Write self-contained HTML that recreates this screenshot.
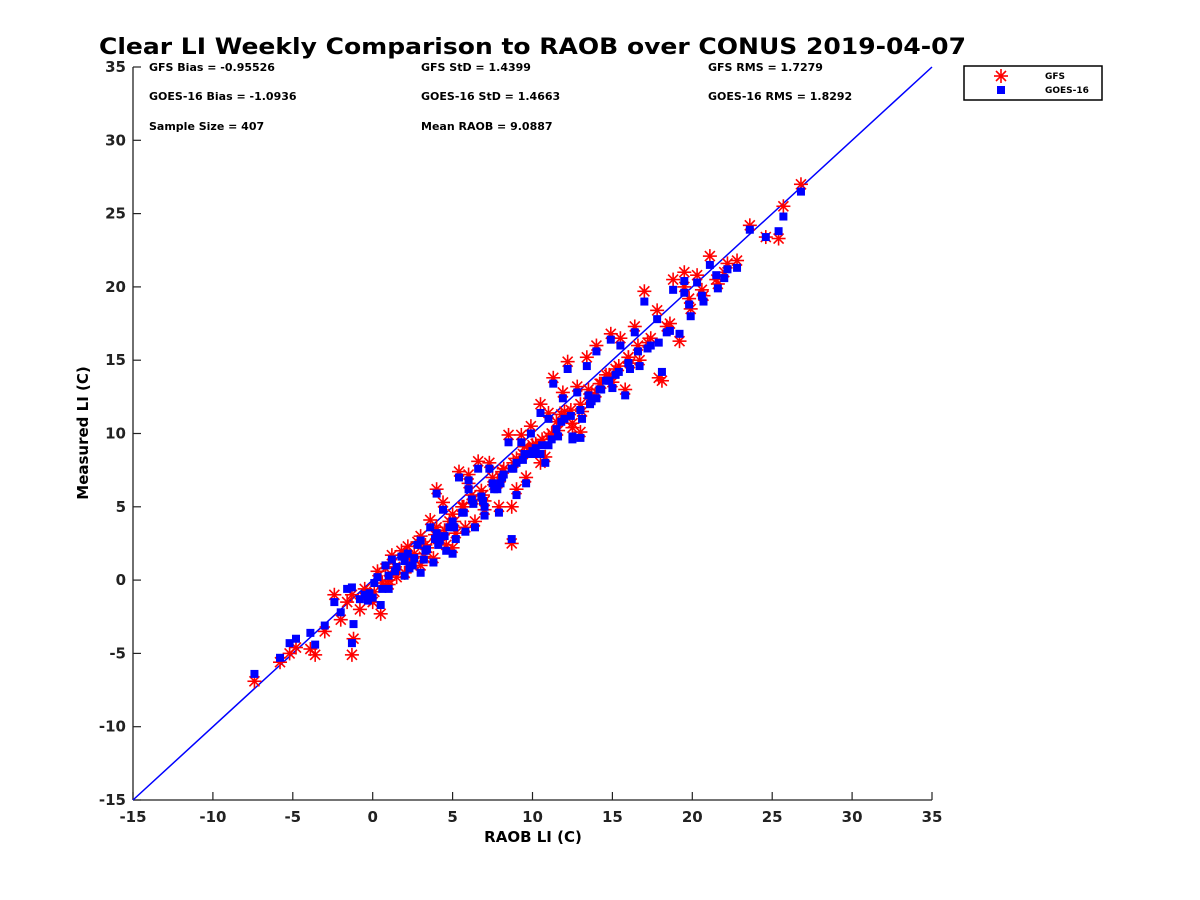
<!DOCTYPE html>
<html><head><meta charset="utf-8"><style>
body{margin:0;background:#fff;}
svg{display:block;font-family:"DejaVu Sans","Liberation Sans",sans-serif;}
</style></head><body>
<svg id="chart" width="1200" height="900">
<text x="99" y="54" textLength="867" lengthAdjust="spacingAndGlyphs" font-size="22" font-weight="bold">Clear LI Weekly Comparison to RAOB over CONUS 2019-04-07</text>
<g font-size="11" font-weight="bold">
<text x="149" y="71">GFS Bias = -0.95526</text>
<text x="421" y="71">GFS StD = 1.4399</text>
<text x="708" y="71">GFS RMS = 1.7279</text>
<text x="149" y="100">GOES-16 Bias = -1.0936</text>
<text x="421" y="100">GOES-16 StD = 1.4663</text>
<text x="708" y="100">GOES-16 RMS = 1.8292</text>
<text x="149" y="130">Sample Size = 407</text>
<text x="421" y="130">Mean RAOB = 9.0887</text>
</g>
<g id="axes"></g>
<g id="marks"></g>
<text x="533" y="842" text-anchor="middle" font-size="15" font-weight="bold">RAOB LI (C)</text>
<text transform="translate(88,433) rotate(-90)" text-anchor="middle" font-size="15" font-weight="bold">Measured LI (C)</text>
<g>
<rect x="964" y="66" width="138" height="34" fill="#fff" stroke="#000" stroke-width="1.5"/>
<g stroke="red" stroke-width="1.6">
<line x1="1001" y1="69" x2="1001" y2="83"/><line x1="994" y1="76" x2="1008" y2="76"/><line x1="996" y1="71" x2="1006" y2="81"/><line x1="996" y1="81" x2="1006" y2="71"/></g>
<rect x="997" y="86" width="8" height="8" fill="blue"/>
<text x="1045" y="79" font-size="9" font-weight="bold">GFS</text>
<text x="1045" y="93" font-size="9" font-weight="bold">GOES-16</text>
</g>
</svg>
<script>
const raob=[-7.4,-5.8,-5.2,-4.8,-3.9,-3.6,-3.0,-2.4,-2.0,-1.6,-1.3,-1.2,-0.8,-0.5,-0.2,0.1,0.3,0.5,0.8,1.0,1.2,1.5,1.8,2.0,2.2,2.5,2.8,3.0,3.2,3.4,3.6,3.8,4.0,4.2,4.4,4.6,4.8,5.0,5.2,5.4,5.6,5.8,6.0,6.2,6.4,6.6,6.8,7.0,7.3,7.6,7.9,8.2,8.5,8.7,9.0,9.3,9.6,9.9,10.2,10.5,10.8,11.0,11.3,11.6,11.9,12.2,12.5,12.8,13.1,13.4,13.7,14.0,14.3,14.6,14.9,15.2,15.5,15.8,16.1,16.4,16.7,17.0,17.4,17.8,18.1,18.4,18.8,19.2,19.5,19.9,20.3,20.7,21.1,21.6,22.2,22.8,23.6,24.6,25.4,25.7,26.8,
3.0,4.0,5.0,6.0,7.0,8.0,9.0,10.0,11.0,12.0,13.0,14.0,15.0,16.0,2.0,1.0,0.0,-1.3,8.7,17.9,19.5,21.5,9.5,10.5,11.5,12.5,13.5,
1.4,2.6,3.3,3.9,4.5,5.1,5.7,6.3,6.9,7.5,8.1,8.8,9.4,10.0,10.6,11.2,11.8,12.4,13.0,13.6,14.2,14.8,15.4,16.0,16.6,17.2,18.6,19.8,20.6,22.0,0.6,-0.3,2.3,4.1,7.8];
const gfs=[-6.9,-5.6,-5.0,-4.6,-4.7,-5.1,-3.5,-1.0,-2.7,-1.5,-5.1,-4.0,-2.0,-0.6,-1.3,-0.8,0.6,-2.3,0.8,-0.3,1.7,0.2,2.0,0.5,2.3,1.2,2.6,3.0,1.6,2.2,4.1,1.5,6.2,3.0,5.3,2.4,4.0,4.5,3.2,7.4,5.0,3.6,7.2,5.8,4.0,8.1,6.1,5.4,8.0,6.5,5.0,7.6,9.9,5.0,8.3,9.9,7.0,10.5,9.3,12.0,8.4,11.4,13.8,10.2,12.8,14.9,10.4,13.2,11.5,15.2,12.6,16.0,13.4,14.0,16.8,14.4,16.5,13.0,14.8,17.3,15.0,19.7,16.5,18.4,13.6,17.3,20.5,16.3,21.0,18.5,20.8,19.4,22.1,20.2,21.6,21.8,24.2,23.4,23.3,25.5,27.0,
1.0,3.6,2.2,6.6,4.8,7.0,6.2,9.2,9.8,11.5,10.1,12.8,13.5,15.2,0.5,0.0,-1.5,-1.0,2.5,13.8,20.0,20.5,9.1,8.0,10.8,10.7,13.0,
0.9,1.8,2.4,3.1,3.4,4.0,5.0,5.5,5.8,7.0,7.4,8.0,8.6,9.0,9.6,10.0,11.3,11.6,12.0,12.4,13.4,14.0,14.6,15.2,16.0,16.2,17.5,19.2,19.8,21.0,-0.2,-1.0,1.1,2.8,6.6];
const goes=[-6.4,-5.3,-4.3,-4.0,-3.6,-4.4,-3.1,-1.5,-2.2,-0.6,-4.3,-3.0,-1.3,-1.0,-0.9,-0.2,0.2,-1.7,1.0,-0.6,1.4,0.9,1.6,0.3,1.8,1.0,2.4,2.7,1.4,2.1,3.6,1.2,5.9,2.7,4.8,2.0,3.6,4.0,2.8,7.0,4.6,3.3,6.8,5.5,3.6,7.6,5.7,5.0,7.6,6.2,4.6,7.2,9.4,2.8,8.0,9.4,6.6,10.0,9.0,11.4,8.0,11.0,13.4,9.8,12.4,14.4,9.8,12.8,11.0,14.6,12.2,15.6,13.0,13.6,16.4,14.0,16.0,12.6,14.4,16.9,14.6,19.0,16.0,17.8,14.2,16.9,19.8,16.8,20.4,18.0,20.3,19.0,21.5,19.9,21.2,21.3,23.9,23.4,23.8,24.8,26.5,
0.5,3.2,1.8,6.2,4.4,6.6,5.8,8.8,9.2,11.0,9.7,12.4,13.1,14.8,1.3,0.3,-1.2,-0.5,7.6,16.2,19.6,20.8,8.6,8.6,10.3,9.6,12.6,
0.6,1.5,2.0,2.8,3.0,3.6,4.6,5.2,5.4,6.6,7.0,7.6,8.2,8.6,9.2,9.6,10.8,11.2,11.6,12.0,13.0,13.6,14.2,14.8,15.6,15.8,17.0,18.8,19.4,20.6,-0.6,-1.4,0.8,2.4,6.2];
const ticks=[-15,-10,-5,0,5,10,15,20,25,30,35];
const X0=133,X1=932,Y0=800,Y1=67,MIN=-15,MAX=35;
const sx=v=>X0+(v-MIN)/(MAX-MIN)*(X1-X0);
const sy=v=>Y0-(v-MIN)/(MAX-MIN)*(Y0-Y1);
const NS='http://www.w3.org/2000/svg';
function mk(tag,at,parent){const e=document.createElementNS(NS,tag);for(const k in at)e.setAttribute(k,at[k]);parent.appendChild(e);return e;}
const axes=document.getElementById('axes'),marks=document.getElementById('marks');
const xa=mk('line',{x1:X0,y1:Y0,x2:X1,y2:Y0,stroke:'#222','stroke-width':1.3},axes);


const ya=mk('line',{x1:X0,y1:Y0,x2:X0,y2:Y1,stroke:'#222','stroke-width':1.3},axes);


ticks.forEach(t=>{
  mk('line',{x1:sx(t),y1:Y0,x2:sx(t),y2:Y0-8,stroke:'#222','stroke-width':1.2},axes);
  mk('line',{x1:X0,y1:sy(t),x2:X0+8,y2:sy(t),stroke:'#222','stroke-width':1.2},axes);
  const tx=mk('text',{x:sx(t),y:Y0+22,'text-anchor':'middle','font-size':15,'font-weight':'bold',fill:'#222'},axes);
  tx.textContent=t;
  
  
  const ty=mk('text',{x:X0-7,y:sy(t)+5,'text-anchor':'end','font-size':15,'font-weight':'bold',fill:'#222'},axes);
  ty.textContent=t;
  
  
});
const dl=mk('line',{x1:sx(MIN),y1:sy(MIN),x2:sx(MAX),y2:sy(MAX),stroke:'blue','stroke-width':1.5},marks);


const n=Math.min(raob.length,gfs.length,goes.length);
for(let i=0;i<n;i++){
  const cx=sx(raob[i]),cy=sy(gfs[i]),r=7,d=5;
  const g=mk('g',{stroke:'red','stroke-width':1.6},marks);
  
  
  mk('line',{x1:cx,y1:cy-r,x2:cx,y2:cy+r},g);
  mk('line',{x1:cx-r,y1:cy,x2:cx+r,y2:cy},g);
  mk('line',{x1:cx-d,y1:cy-d,x2:cx+d,y2:cy+d},g);
  mk('line',{x1:cx-d,y1:cy+d,x2:cx+d,y2:cy-d},g);
}
for(let i=0;i<n;i++){
  const s=mk('rect',{x:sx(raob[i])-4,y:sy(goes[i])-4,width:8,height:8,fill:'blue'},marks);
  
  
}
</script>
</body></html>
